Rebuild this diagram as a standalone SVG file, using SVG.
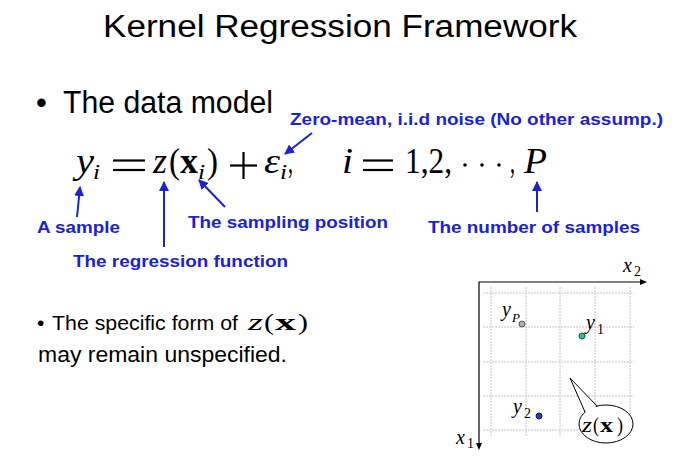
<svg xmlns="http://www.w3.org/2000/svg" width="680" height="466" viewBox="0 0 680 466">
<defs>
<style>
.title{font-family:"Liberation Sans",Arial,sans-serif;font-size:31px;fill:#000}
.body{font-family:"Liberation Sans",Arial,sans-serif;fill:#000}
.note{font-family:"Liberation Sans",Arial,sans-serif;font-weight:bold;font-size:17px;fill:#1a22d8}
.m{font-family:"Liberation Serif","Times New Roman",serif;fill:#000}
.mi{font-family:"Liberation Serif","Times New Roman",serif;font-style:italic;fill:#000}
.mb{font-family:"Liberation Serif","Times New Roman",serif;font-weight:bold;fill:#000}
.blue{stroke:#1a22d8;stroke-width:2;fill:none}
.grid{stroke:#c4c4c4;stroke-width:1;stroke-dasharray:2 1}
.axis{stroke:#000;stroke-width:1.2;fill:none}
.bar{stroke:#000;stroke-width:2.2}
</style>
<marker id="bh" viewBox="0 0 10 10" refX="9" refY="5" markerWidth="5" markerHeight="5" orient="auto" markerUnits="strokeWidth">
<path d="M0,0 L10,5 L0,10 z" fill="#1a22d8"/>
</marker>
</defs>
<rect width="680" height="466" fill="#fff"/>

<g id="title">
<text class="title" x="103" y="37" textLength="474" lengthAdjust="spacingAndGlyphs">Kernel Regression Framework</text>
</g>

<g id="bullet1">
<text class="body" x="36" y="113" font-size="31">•</text>
<text class="body" x="63" y="113" font-size="31" textLength="210" lengthAdjust="spacingAndGlyphs">The data model</text>
</g>

<g id="formula" font-size="35">
<text class="mi" x="76" y="173" textLength="18" lengthAdjust="spacingAndGlyphs">y</text>
<text class="mi" x="93" y="179" font-size="22" textLength="7" lengthAdjust="spacingAndGlyphs">i</text>
<line class="bar" x1="113" y1="160.5" x2="145" y2="160.5"/>
<line class="bar" x1="113" y1="170" x2="145" y2="170"/>
<text class="mi" x="153" y="173" textLength="14" lengthAdjust="spacingAndGlyphs">z</text>
<text class="m" x="169" y="173" textLength="11" lengthAdjust="spacingAndGlyphs">(</text>
<text class="mb" x="180" y="173" textLength="18" lengthAdjust="spacingAndGlyphs">x</text>
<text class="mi" x="198" y="179" font-size="22" textLength="7" lengthAdjust="spacingAndGlyphs">i</text>
<text class="m" x="207" y="173" textLength="11" lengthAdjust="spacingAndGlyphs">)</text>
<line class="bar" x1="230" y1="165.5" x2="257" y2="165.5"/>
<line class="bar" x1="243.5" y1="152" x2="243.5" y2="179"/>
<text class="mi" x="264" y="173" textLength="16" lengthAdjust="spacingAndGlyphs">ε</text>
<text class="mi" x="280" y="179" font-size="22" textLength="7" lengthAdjust="spacingAndGlyphs">i</text>
<text class="m" x="288" y="173" textLength="5" lengthAdjust="spacingAndGlyphs">,</text>
<text class="mi" x="342" y="173" textLength="11" lengthAdjust="spacingAndGlyphs">i</text>
<line class="bar" x1="363" y1="160.5" x2="393" y2="160.5"/>
<line class="bar" x1="363" y1="170" x2="393" y2="170"/>
<text class="m" x="405" y="173" textLength="47" lengthAdjust="spacingAndGlyphs">1,2,</text>
<circle cx="465" cy="165" r="1.8" fill="#000"/>
<circle cx="482" cy="165" r="1.8" fill="#000"/>
<circle cx="499" cy="165" r="1.8" fill="#000"/>
<text class="m" x="510" y="173" textLength="5" lengthAdjust="spacingAndGlyphs">,</text>
<text class="mi" x="524" y="173" textLength="23" lengthAdjust="spacingAndGlyphs">P</text>
</g>

<g id="label-noise">
<text class="note" x="290" y="125" textLength="373" lengthAdjust="spacingAndGlyphs">Zero-mean, i.i.d noise (No other assump.)</text>
</g>
<g id="label-sample">
<text class="note" x="37" y="233" textLength="83" lengthAdjust="spacingAndGlyphs">A sample</text>
</g>
<g id="label-regression">
<text class="note" x="73" y="267" textLength="215" lengthAdjust="spacingAndGlyphs">The regression function</text>
</g>
<g id="label-position">
<text class="note" x="188" y="228" textLength="200" lengthAdjust="spacingAndGlyphs">The sampling position</text>
</g>
<g id="label-number">
<text class="note" x="428" y="233" textLength="212" lengthAdjust="spacingAndGlyphs">The number of samples</text>
</g>

<g id="connectors">
<line class="blue" x1="312" y1="133" x2="285" y2="154" marker-end="url(#bh)"/>
<line class="blue" x1="77" y1="217" x2="80" y2="187" marker-end="url(#bh)"/>
<line class="blue" x1="164" y1="247" x2="164" y2="182" marker-end="url(#bh)"/>
<line class="blue" x1="225" y1="207" x2="199" y2="180" marker-end="url(#bh)"/>
<line class="blue" x1="537" y1="212" x2="537" y2="182" marker-end="url(#bh)"/>
</g>

<g id="bullet2">
<text class="body" x="37" y="330" font-size="21">•</text>
<text class="body" x="52" y="330" font-size="21" textLength="186" lengthAdjust="spacingAndGlyphs">The specific form of</text>
<text class="mi" x="248" y="330" font-size="24" textLength="15" lengthAdjust="spacingAndGlyphs">z</text>
<text class="m" x="264" y="330" font-size="24" textLength="10" lengthAdjust="spacingAndGlyphs">(</text>
<text class="mb" x="275" y="330" font-size="24" textLength="21" lengthAdjust="spacingAndGlyphs">x</text>
<text class="m" x="298" y="330" font-size="24" textLength="10" lengthAdjust="spacingAndGlyphs">)</text>
<text class="body" x="38" y="362" font-size="22" textLength="249" lengthAdjust="spacingAndGlyphs">may remain unspecified.</text>
</g>

<g id="plot">
<g id="grid">
<line class="grid" x1="483" y1="293" x2="634" y2="293"/>
<line class="grid" x1="483" y1="327" x2="634" y2="327"/>
<line class="grid" x1="483" y1="362" x2="634" y2="362"/>
<line class="grid" x1="483" y1="396" x2="634" y2="396"/>
<line class="grid" x1="483" y1="430" x2="634" y2="430"/>
<line class="grid" x1="491" y1="287" x2="491" y2="436"/>
<line class="grid" x1="526" y1="287" x2="526" y2="436"/>
<line class="grid" x1="560" y1="287" x2="560" y2="436"/>
<line class="grid" x1="595" y1="287" x2="595" y2="436"/>
<line class="grid" x1="630" y1="287" x2="630" y2="436"/>
</g>
<g id="axes">
<polyline class="axis" points="640,282 479,282 479,444" />
<path d="M640,279 L647,282 L640,285 z" fill="#000"/>
<path d="M476,443 L479,450 L482,443 z" fill="#000"/>
</g>
<g id="axis-x2">
<text class="mi" x="623" y="272" font-size="20">x</text>
<text class="m" x="634" y="276" font-size="14">2</text>
</g>
<g id="axis-x1">
<text class="mi" x="456" y="444" font-size="20">x</text>
<text class="m" x="467" y="448" font-size="14">1</text>
</g>
<g id="point-yP">
<circle cx="522" cy="324" r="3" fill="#b0b0b0" stroke="#555" stroke-width="1"/>
<text class="mi" x="502" y="316" font-size="20">y</text>
<text class="mi" x="512" y="322" font-size="13">P</text>
</g>
<g id="point-y1">
<circle cx="582" cy="336" r="3" fill="#2cc08a" stroke="#1a5a40" stroke-width="1"/>
<text class="mi" x="586" y="329" font-size="20">y</text>
<text class="m" x="597" y="334" font-size="14">1</text>
</g>
<g id="point-y2">
<circle cx="539" cy="416" r="3" fill="#2a3ab0" stroke="#101850" stroke-width="1"/>
<text class="mi" x="513" y="413" font-size="20">y</text>
<text class="m" x="524" y="418" font-size="14">2</text>
</g>
<g id="callout">
<ellipse cx="606" cy="424" rx="27" ry="19" fill="#fff" stroke="#000" stroke-width="1"/>
<polygon points="586,413 570,378 596,407" fill="#fff"/>
<polyline points="585,412 570,378 597,406" fill="none" stroke="#000" stroke-width="1"/>
<text class="mi" x="582" y="432" font-size="21" textLength="10" lengthAdjust="spacingAndGlyphs">z</text>
<text class="m" x="593" y="432" font-size="21" textLength="6" lengthAdjust="spacingAndGlyphs">(</text>
<text class="mb" x="600" y="432" font-size="21" textLength="13" lengthAdjust="spacingAndGlyphs">x</text>
<text class="m" x="617" y="432" font-size="21" textLength="6" lengthAdjust="spacingAndGlyphs">)</text>
</g>
</g>
</svg>
